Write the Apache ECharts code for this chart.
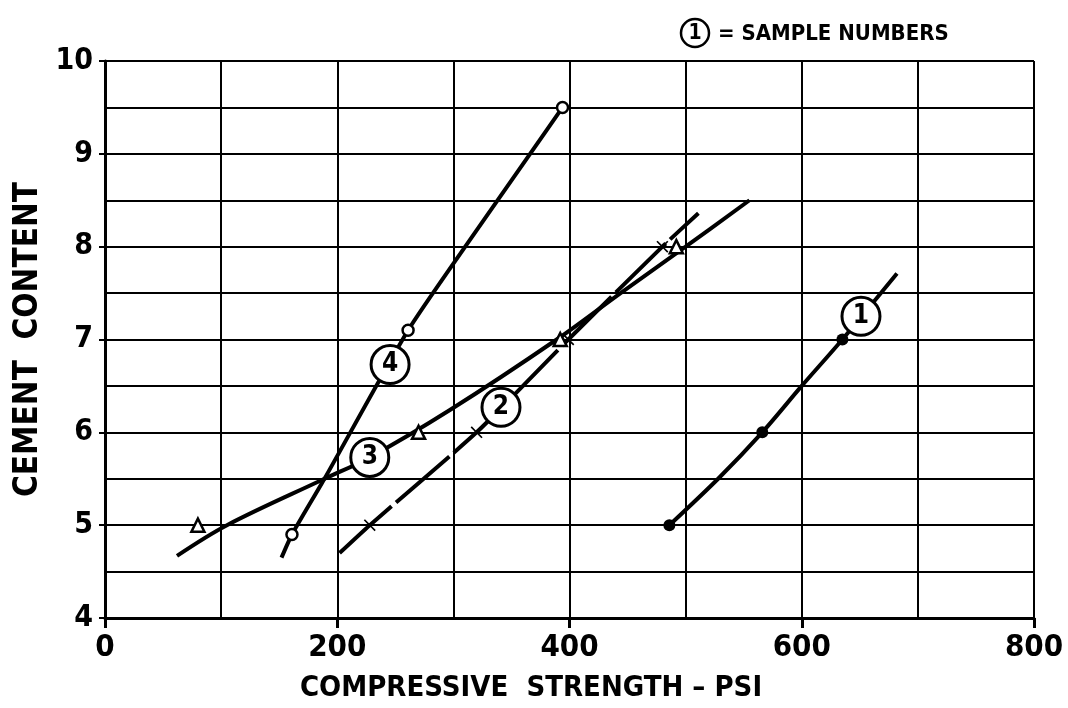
<!DOCTYPE html>
<html>
<head>
<meta charset="utf-8">
<script src="https://cdn.jsdelivr.net/npm/echarts@6/dist/echarts.min.js"></script>
<style>
  html, body { margin: 0; padding: 0; background: #fff; }
  #chart { width: 1068px; height: 708px; }
</style>
</head>
<body>
<div id="chart"></div>
<script>
// measured points (psi, cement content)
var sample1Points = [[486, 5], [566, 6], [635, 7]];
var sample2Points = [[228, 5], [320, 6], [399, 7], [480, 8]];
var sample3Points = [[80, 5], [270, 6], [392, 7], [492, 8]];
var sample4Points = [[161, 4.9], [261, 7.1], [394, 9.5]];

// drawn trend curves
var sample1Curve = [[486, 5], [528, 5.5], [566, 6], [600, 6.5], [635, 7], [682, 7.71]];
var sample2Curve = [[202, 4.7], [228, 5], [320, 6], [399, 7], [480, 8], [511, 8.36]];
var sample3Curve = [[62, 4.67], [105, 5], [189, 5.5], [228, 5.73], [297, 6.24], [389, 7], [444, 7.5], [500, 8], [555, 8.5]];
var sample4Curve = [[152, 4.65], [161, 4.9], [189, 5.5], [261, 7.1], [309, 7.98], [365, 8.98], [394, 9.5]];

// circled sample number tags
var tagNames = ['1', '2', '3', '4'];
var tagPositions = [[651, 7.25], [341, 6.27], [228, 5.73], [245.5, 6.73]];

var xTicks = [0, 200, 400, 600, 800];
var yTicks = [4, 5, 6, 7, 8, 9, 10];

var FONT = '"DejaVu Sans Condensed", "DejaVu Sans", sans-serif';
var myChart = echarts.init(document.getElementById('chart'));

function curve(data, smooth, dash) {
    return {
        type: 'line',
        data: data,
        showSymbol: false,
        smooth: smooth,
        lineStyle: { color: '#000', width: 4, type: dash || 'solid' },
        z: 3,
        silent: true
    };
}

function points(data, symbol, fill, size) {
    return {
        type: 'scatter',
        data: data,
        symbol: symbol,
        symbolSize: size,
        itemStyle: { color: fill, borderColor: '#000', borderWidth: fill === '#000' ? 0 : 2.5, opacity: 1 },
        z: 4
    };
}

var crossPath = 'path://M0,1L1,0L5,4L9,0L10,1L6,5L10,9L9,10L5,6L1,10L0,9L4,5Z';

var options = {
    backgroundColor: '#fff',
    animation: false,
    textStyle: { fontFamily: FONT },
    grid: { left: 105, right: 34, top: 61, bottom: 89.5 },
    graphic: [
        {
            type: 'circle',
            shape: { cx: 695, cy: 33, r: 14 },
            style: { fill: '#fff', stroke: '#000', lineWidth: 2.5 }
        },
        {
            type: 'text',
            x: 695, y: 34,
            style: { text: '1', font: 'bold 21px ' + FONT, fill: '#000', align: 'center', verticalAlign: 'middle' }
        },
        {
            type: 'text',
            x: 718, y: 34,
            style: { text: '= SAMPLE NUMBERS', font: 'bold 22px ' + FONT, fill: '#000', verticalAlign: 'middle' }
        }
    ],
    xAxis: {
        type: 'value',
        min: 0, max: 800, interval: 200,
        name: 'COMPRESSIVE  STRENGTH – PSI',
        nameLocation: 'middle',
        nameGap: 56,
        nameTextStyle: { fontSize: 29, fontWeight: 'bold', color: '#000', fontFamily: FONT, padding: [0, 77, 0, 0] },
        axisLine: { lineStyle: { color: '#000', width: 3 } },
        axisTick: { show: true, inside: false, length: 10, lineStyle: { color: '#000', width: 3 } },
        axisLabel: {
            fontSize: 31, fontWeight: 'bold', color: '#000', margin: 14, fontFamily: FONT,
            formatter: function (v) { return xTicks.indexOf(v) >= 0 ? String(v) : ''; }
        },
        splitLine: { show: true, lineStyle: { color: '#000', width: 2 } },
        minorTick: { show: false, splitNumber: 2 },
        minorSplitLine: { show: true, lineStyle: { color: '#000', width: 2 } }
    },
    yAxis: {
        type: 'value',
        min: 4, max: 10, interval: 1,
        name: 'CEMENT  CONTENT',
        nameLocation: 'middle',
        nameGap: 58,
        nameRotate: 90,
        nameTextStyle: { fontSize: 33, fontWeight: 'bold', color: '#000', fontFamily: FONT },
        axisLine: { lineStyle: { color: '#000', width: 3 } },
        axisTick: { show: true, inside: false, length: 6, lineStyle: { color: '#000', width: 2 } },
        axisLabel: {
            fontSize: 30, fontWeight: 'bold', color: '#000', margin: 12, fontFamily: FONT,
            formatter: function (v) { return yTicks.indexOf(v) >= 0 ? String(v) : ''; }
        },
        splitLine: { show: true, lineStyle: { color: '#000', width: 2 } },
        minorTick: { show: false, splitNumber: 2 },
        minorSplitLine: { show: true, lineStyle: { color: '#000', width: 2 } }
    },
    series: [
        curve(sample1Curve, 0.3),
        curve(sample2Curve, 0.2, [70, 6]),
        curve(sample3Curve, 0.35),
        curve(sample4Curve, 0.2),
        points(sample1Points, 'circle', '#000', 12),
        points(sample2Points, crossPath, '#000', 12),
        points(sample3Points, 'triangle', '#fff', 13),
        points(sample4Points, 'circle', '#fff', 11),
        {
            type: 'scatter',
            data: tagPositions.map(function (p, i) { return { value: p, name: tagNames[i] }; }),
            symbol: 'circle',
            symbolSize: 38,
            itemStyle: { color: '#fff', borderColor: '#000', borderWidth: 3, opacity: 1 },
            label: {
                show: true, position: 'inside', formatter: '{b}',
                fontSize: 26, fontWeight: 'bold', color: '#000', fontFamily: FONT
            },
            z: 5
        }
    ]
};

myChart.setOption(options);
</script>
</body>
</html>
